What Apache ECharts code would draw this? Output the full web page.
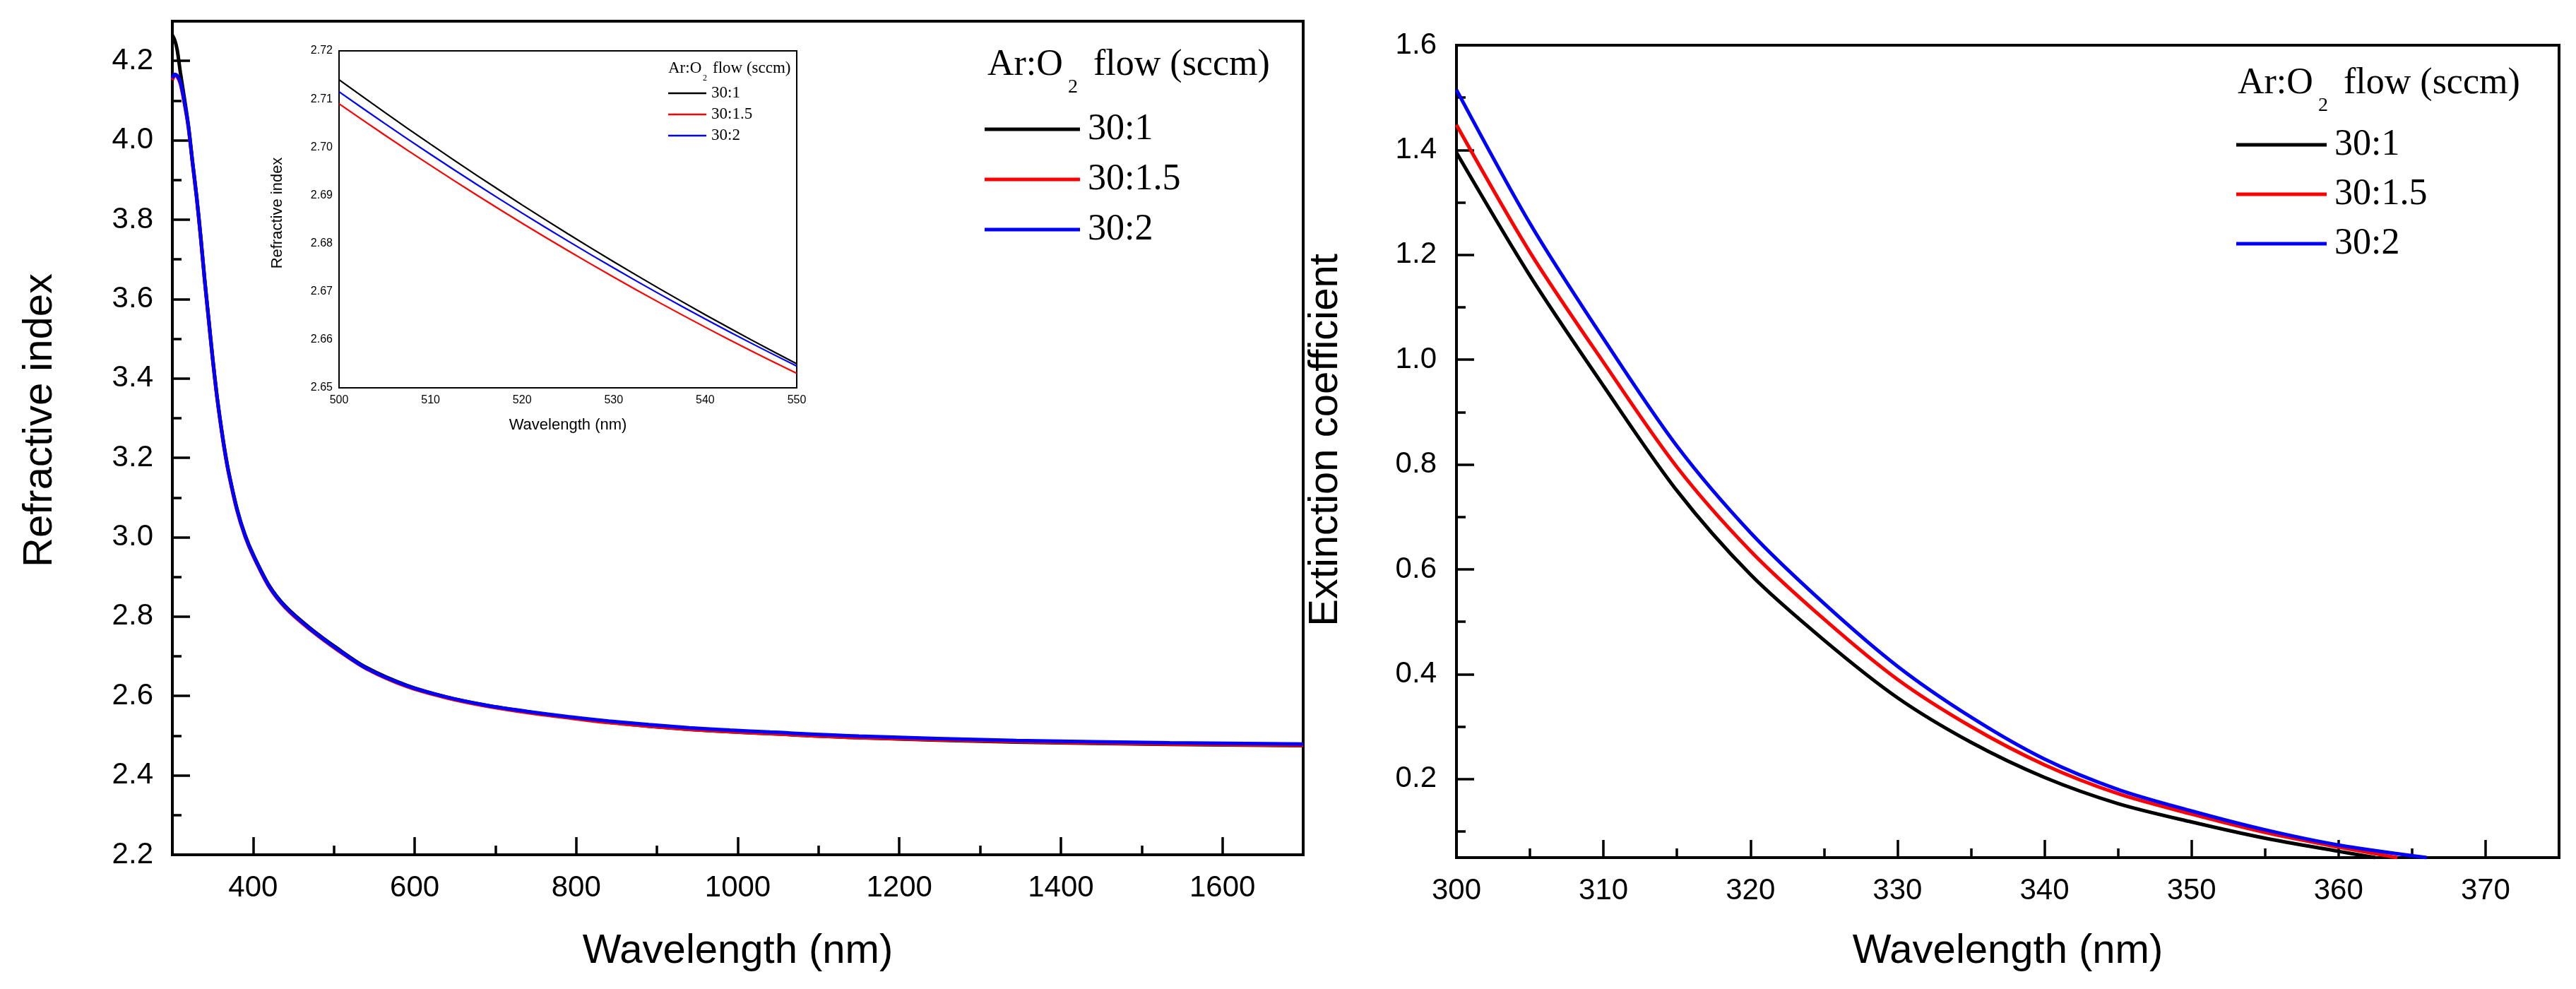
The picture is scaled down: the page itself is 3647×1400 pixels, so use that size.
<!DOCTYPE html>
<html>
<head>
<meta charset="utf-8">
<script src="https://cdn.jsdelivr.net/npm/echarts@6/dist/echarts.min.js"></script>
<style>
  html, body { margin: 0; padding: 0; background: #fff; }
  #chart { width: 3647px; height: 1400px; }
</style>
</head>
<body>
<div id="chart"></div>
<script>
// series names
var flowNames = ['30:1', '30:1.5', '30:2'];
var flowColors = ['#000000', '#ff0000', '#0000ff'];

// refractive index, full range
var nWl = [300, 303, 306, 310, 315, 320, 325, 330, 335, 340, 345, 350, 355, 360, 365, 370, 380, 390, 400, 420, 440, 470, 505, 540, 590, 640, 690, 740, 790, 840, 890, 940, 990, 1040, 1150, 1345, 1535, 1700];
var nBlack = [4.265, 4.252, 4.228, 4.170, 4.105, 4.035, 3.945, 3.860, 3.760, 3.650, 3.550, 3.450, 3.360, 3.285, 3.218, 3.162, 3.072, 3.006, 2.957, 2.878, 2.826, 2.772, 2.719, 2.672, 2.627, 2.597, 2.576, 2.560, 2.546, 2.534, 2.524, 2.516, 2.510, 2.505, 2.495, 2.484, 2.478, 2.475];
var nRed   = [4.152, 4.163, 4.160, 4.142, 4.092, 4.030, 3.942, 3.856, 3.756, 3.646, 3.546, 3.446, 3.357, 3.281, 3.214, 3.158, 3.068, 3.002, 2.953, 2.874, 2.822, 2.768, 2.715, 2.669, 2.624, 2.595, 2.574, 2.558, 2.545, 2.533, 2.524, 2.516, 2.510, 2.505, 2.495, 2.485, 2.479, 2.476];
var nBlue  = [4.156, 4.166, 4.163, 4.146, 4.096, 4.033, 3.944, 3.858, 3.758, 3.648, 3.548, 3.448, 3.359, 3.283, 3.216, 3.160, 3.070, 3.004, 2.955, 2.876, 2.824, 2.770, 2.717, 2.670, 2.626, 2.597, 2.576, 2.561, 2.548, 2.537, 2.528, 2.520, 2.514, 2.509, 2.499, 2.488, 2.482, 2.479];

// inset, 500-550 nm
var insetWl = [500, 505, 510, 515, 520, 525, 530, 535, 540, 545, 550];
var insetBlack = [2.7140, 2.7072, 2.7006, 2.6942, 2.6880, 2.6820, 2.6762, 2.6706, 2.6652, 2.6600, 2.6550];
var insetRed   = [2.7090, 2.7025, 2.6962, 2.6901, 2.6842, 2.6785, 2.6730, 2.6677, 2.6626, 2.6577, 2.6530];
var insetBlue  = [2.7115, 2.7049, 2.6985, 2.6923, 2.6863, 2.6805, 2.6749, 2.6695, 2.6643, 2.6593, 2.6545];

// extinction coefficient
var kWlBlack = [300, 305, 310, 315, 320, 325, 330, 335, 340, 345, 350, 355, 360, 362.5];
var kBlack   = [1.395, 1.160, 0.950, 0.750, 0.590, 0.465, 0.355, 0.270, 0.203, 0.153, 0.118, 0.087, 0.062, 0.050];
var kWlRed   = [300, 305, 310, 315, 320, 325, 330, 335, 340, 345, 350, 355, 360, 364];
var kRed     = [1.448, 1.205, 0.995, 0.795, 0.635, 0.505, 0.390, 0.300, 0.227, 0.172, 0.133, 0.098, 0.070, 0.050];
var kWlBlue  = [300, 305, 310, 315, 320, 325, 330, 335, 340, 345, 350, 355, 360, 366];
var kBlue    = [1.515, 1.260, 1.040, 0.835, 0.670, 0.535, 0.415, 0.318, 0.238, 0.180, 0.139, 0.103, 0.074, 0.050];

// ticks
var nXMajor = [400, 600, 800, 1000, 1200, 1400, 1600];
var nXMinor = [500, 700, 900, 1100, 1300, 1500];
var nYMajor = [2.2, 2.4, 2.6, 2.8, 3.0, 3.2, 3.4, 3.6, 3.8, 4.0, 4.2];
var nYMinor = [2.3, 2.5, 2.7, 2.9, 3.1, 3.3, 3.5, 3.7, 3.9, 4.1];
var kXMajor = [300, 310, 320, 330, 340, 350, 360, 370];
var kXMinor = [305, 315, 325, 335, 345, 355, 365];
var kYMajor = [0.2, 0.4, 0.6, 0.8, 1.0, 1.2, 1.4, 1.6];
var kYMinor = [0.1, 0.3, 0.5, 0.7, 0.9, 1.1, 1.3, 1.5];
var insetXMajor = [500, 510, 520, 530, 540, 550];
var insetXMinor = [505, 515, 525, 535, 545];
var insetYMajor = [2.65, 2.66, 2.67, 2.68, 2.69, 2.70, 2.71, 2.72];
var insetYMinor = [2.655, 2.665, 2.675, 2.685, 2.695, 2.705, 2.715];

var SANS = 'Liberation Sans, Arial, sans-serif';
var SERIF = 'Liberation Serif, Times New Roman, serif';

function zip(xs, ys) {
  return xs.map(function (x, i) { return [x, ys[i]]; });
}

// axis that carries labels and the long ticks
function majorAxis(grid, min, max, ticks, s) {
  return {
    type: 'value', gridIndex: grid, min: min, max: max, position: s.position,
    axisLine: { show: false },
    splitLine: { show: false },
    axisTick: { show: true, inside: true, customValues: ticks, length: s.tickLen,
      lineStyle: { color: '#000', width: s.tickWidth } },
    axisLabel: { show: true, customValues: ticks, margin: s.margin, color: '#000',
      fontFamily: SANS, fontSize: s.fontSize, formatter: s.formatter },
    name: s.name, nameLocation: 'middle', nameGap: s.nameGap,
    nameTextStyle: { color: '#000', fontFamily: SANS, fontSize: s.nameSize, padding: s.namePadding || 0 }
  };
}

// axis that only carries the short ticks
function minorAxis(grid, min, max, ticks, s) {
  return {
    type: 'value', gridIndex: grid, min: min, max: max, position: s.position,
    axisLine: { show: false },
    splitLine: { show: false },
    axisLabel: { show: false },
    axisTick: { show: true, inside: true, customValues: ticks, length: s.tickLen,
      lineStyle: { color: '#000', width: s.tickWidth } }
  };
}

function fmt(d) { return function (v) { return v.toFixed(d); }; }

var myChart = echarts.init(document.getElementById('chart'));

function lineSeries(name, color, xi, data, width, z) {
  return {
    name: name, type: 'line', xAxisIndex: xi, yAxisIndex: xi,
    data: data, showSymbol: false, symbol: 'none', smooth: 0.3,
    lineStyle: { color: color, width: width }, itemStyle: { color: color },
    z: z
  };
}

var legendText = function (size, lh) {
  return { color: '#000', fontFamily: SERIF, fontSize: size, lineHeight: lh, padding: [0, 0, 0, 6] };
};

// "Ar:O2 flow (sccm)" with a lowered 2, y values are text middles
function legendTitle(x0, yMid, size, subSize, subMid, subDx, restDx) {
  function t(x, y, text, fs) {
    return { type: 'text', x: x, y: y, z: 100,
      style: { text: text, fill: '#000', fontFamily: SERIF, fontSize: fs, align: 'left', verticalAlign: 'middle' } };
  }
  return [
    t(x0, yMid, 'Ar:O', size),
    t(x0 + subDx, subMid, '2', subSize),
    t(x0 + restDx, yMid, 'flow (sccm)', size)
  ];
}

var option = {
  animation: false,
  backgroundColor: '#fff',
  grid: [
    { left: 244, top: 30, right: 1802, bottom: 190, show: true, borderColor: '#000', borderWidth: 4, backgroundColor: 'transparent', outerBoundsMode: 'none', containLabel: false },
    { left: 2062, top: 64, right: 24, bottom: 186, show: true, borderColor: '#000', borderWidth: 4, backgroundColor: 'transparent', outerBoundsMode: 'none', containLabel: false },
    { left: 480, top: 72, right: 2519, bottom: 851, show: true, borderColor: '#000', borderWidth: 2, backgroundColor: '#fff', outerBoundsMode: 'none', containLabel: false, z: 5 }
  ],
  xAxis: [
    majorAxis(0, 300, 1700, nXMajor, { position: 'bottom', tickLen: 25, tickWidth: 3.5, margin: 26, fontSize: 42, formatter: fmt(0), name: 'Wavelength (nm)', nameGap: 108, nameSize: 58 }),
    minorAxis(0, 300, 1700, nXMinor, { position: 'bottom', tickLen: 13, tickWidth: 3.5 }),
    majorAxis(1, 300, 375, kXMajor, { position: 'bottom', tickLen: 25, tickWidth: 3.5, margin: 26, fontSize: 42, formatter: fmt(0), name: 'Wavelength (nm)', nameGap: 104, nameSize: 58 }),
    minorAxis(1, 300, 375, kXMinor, { position: 'bottom', tickLen: 13, tickWidth: 3.5 }),
    majorAxis(2, 500, 550, insetXMajor, { position: 'bottom', tickLen: 9, tickWidth: 1.6, margin: 10, fontSize: 16, formatter: fmt(0), name: 'Wavelength (nm)', nameGap: 42, nameSize: 22 }),
    minorAxis(2, 500, 550, insetXMinor, { position: 'bottom', tickLen: 5, tickWidth: 1.6 })
  ],
  yAxis: [
    majorAxis(0, 2.2, 4.3, nYMajor, { position: 'left', tickLen: 25, tickWidth: 3.5, margin: 27, fontSize: 42, formatter: fmt(1), name: 'Refractive index', nameGap: 158, nameSize: 58, namePadding: [0, 0, 0, 50] }),
    minorAxis(0, 2.2, 4.3, nYMinor, { position: 'left', tickLen: 13, tickWidth: 3.5 }),
    majorAxis(1, 0.05, 1.6, kYMajor, { position: 'left', tickLen: 25, tickWidth: 3.5, margin: 28, fontSize: 42, formatter: fmt(1), name: 'Extinction coefficient', nameGap: 156, nameSize: 58, namePadding: [0, 0, 0, 32] }),
    minorAxis(1, 0.05, 1.6, kYMinor, { position: 'left', tickLen: 13, tickWidth: 3.5 }),
    majorAxis(2, 2.65, 2.72, insetYMajor, { position: 'left', tickLen: 10, tickWidth: 1.6, margin: 9, fontSize: 16, formatter: fmt(2), name: 'Refractive index', nameGap: 76, nameSize: 22, namePadding: [0, 0, 0, 18] }),
    minorAxis(2, 2.65, 2.72, insetYMinor, { position: 'left', tickLen: 5, tickWidth: 1.6 })
  ],
  legend: [
    { data: flowNames, orient: 'vertical', left: 1394, top: 156, icon: 'rect', itemWidth: 135, itemHeight: 5, itemGap: 17, padding: 0, selectedMode: false, textStyle: legendText(52, 54) },
    { data: flowNames, orient: 'vertical', left: 3166, top: 178, icon: 'rect', itemWidth: 128, itemHeight: 5, itemGap: 16, padding: 0, selectedMode: false, textStyle: legendText(52, 54) },
    { data: flowNames, orient: 'vertical', left: 946, top: 120, icon: 'rect', itemWidth: 54, itemHeight: 2.5, itemGap: 6, padding: 0, selectedMode: false, z: 10, textStyle: { color: '#000', fontFamily: SERIF, fontSize: 23, lineHeight: 24, padding: [0, 0, 0, 2] } }
  ],
  graphic: [].concat(
    legendTitle(1398, 92, 52, 28, 124, 114, 150),
    legendTitle(3168, 118, 52, 28, 150, 114, 150),
    legendTitle(946, 97, 23, 12, 111, 49, 63)
  ),
  series: [
    lineSeries(flowNames[0], flowColors[0], 0, zip(nWl, nBlack), 5, 2),
    lineSeries(flowNames[1], flowColors[1], 0, zip(nWl, nRed), 5, 3),
    lineSeries(flowNames[2], flowColors[2], 0, zip(nWl, nBlue), 5, 4),
    lineSeries(flowNames[0], flowColors[0], 2, zip(kWlBlack, kBlack), 5, 2),
    lineSeries(flowNames[1], flowColors[1], 2, zip(kWlRed, kRed), 5, 3),
    lineSeries(flowNames[2], flowColors[2], 2, zip(kWlBlue, kBlue), 5, 4),
    lineSeries(flowNames[0], flowColors[0], 4, zip(insetWl, insetBlack), 2.2, 12),
    lineSeries(flowNames[1], flowColors[1], 4, zip(insetWl, insetRed), 2.2, 12),
    lineSeries(flowNames[2], flowColors[2], 4, zip(insetWl, insetBlue), 2.2, 12)
  ]
};
myChart.setOption(option);
window.addEventListener('resize', function () {
  myChart.resize();
});
</script>
</body>
</html>
